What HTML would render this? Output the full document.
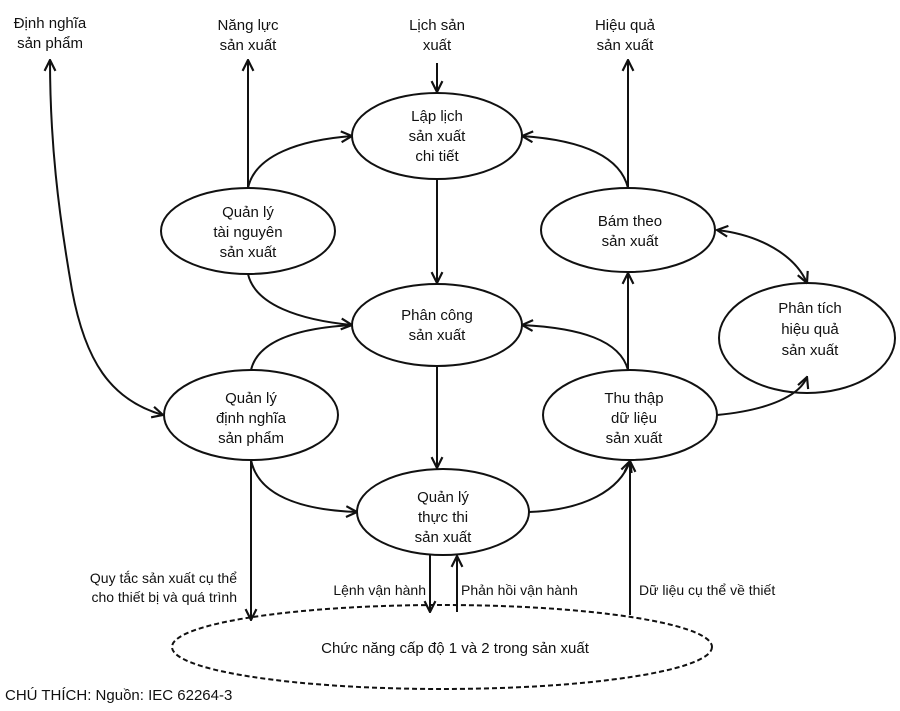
<!DOCTYPE html>
<html><head><meta charset="utf-8"><style>
html,body{margin:0;padding:0;background:#fff;}
svg{display:block;}
text{font-family:"Liberation Sans",sans-serif;font-size:15px;fill:#111;}
</style></head><body>
<svg width="900" height="711" viewBox="0 0 900 711" xmlns="http://www.w3.org/2000/svg">
<defs>
<marker id="a" viewBox="0 0 12 12" refX="11" refY="6" markerWidth="13" markerHeight="13" markerUnits="userSpaceOnUse" orient="auto-start-reverse">
<path d="M1,1 L11,6 L1,11" fill="none" stroke="#111" stroke-width="2"/>
</marker>
</defs>
<g fill="none" stroke="#111" stroke-width="2">
<ellipse cx="437" cy="136" rx="85" ry="43"/>
<ellipse cx="248" cy="231" rx="87" ry="43"/>
<ellipse cx="437" cy="325" rx="85" ry="41"/>
<ellipse cx="628" cy="230" rx="87" ry="42"/>
<ellipse cx="807" cy="338" rx="88" ry="55"/>
<ellipse cx="251" cy="415" rx="87" ry="45"/>
<ellipse cx="630" cy="415" rx="87" ry="45"/>
<ellipse cx="443" cy="512" rx="86" ry="43"/>
<ellipse cx="442" cy="647" rx="270" ry="42" stroke-dasharray="5,3"/>

<path d="M248,188 L248,60" marker-end="url(#a)"/>
<path d="M248,188 C255,155 300,140 352,136" marker-end="url(#a)"/>
<path d="M248,274 C255,305 300,320 352,325" marker-end="url(#a)"/>
<path d="M251,370 C258,340 300,328 352,325"/>
<path d="M251,460 C258,495 300,510 357,512" marker-end="url(#a)"/>
<path d="M251,460 L251,620" marker-end="url(#a)"/>
<path d="M163,415 C110,400 85,360 72,290 C58,210 50,140 50,60" marker-start="url(#a)" marker-end="url(#a)"/>
<path d="M437,63 L437,92" marker-end="url(#a)"/>
<path d="M437,179 L437,283" marker-end="url(#a)"/>
<path d="M437,366 L437,468" marker-end="url(#a)"/>
<path d="M628,188 L628,60" marker-end="url(#a)"/>
<path d="M628,188 C620,155 580,140 522,136" marker-end="url(#a)"/>
<path d="M628,370 L628,273" marker-end="url(#a)"/>
<path d="M628,370 C620,340 580,328 522,325" marker-end="url(#a)"/>
<path d="M529,512 C585,510 620,490 630,461" marker-end="url(#a)"/>
<path d="M630,615 L630,461" marker-end="url(#a)"/>
<path d="M717,415 C770,410 800,395 807,377" marker-end="url(#a)"/>
<path d="M717,230 C760,235 795,255 807,283" marker-start="url(#a)" marker-end="url(#a)"/>
<path d="M430,555 L430,612" marker-end="url(#a)"/>
<path d="M457,612 L457,556" marker-end="url(#a)"/>
</g>
<g text-anchor="middle">
<text x="50" y="28">Định nghĩa</text><text x="50" y="48">sản phẩm</text>
<text x="248" y="30">Năng lực</text><text x="248" y="50">sản xuất</text>
<text x="437" y="30">Lịch sản</text><text x="437" y="50">xuất</text>
<text x="625" y="30">Hiệu quả</text><text x="625" y="50">sản xuất</text>
<text x="437" y="121">Lập lịch</text><text x="437" y="141">sản xuất</text><text x="437" y="161">chi tiết</text>
<text x="248" y="217">Quản lý</text><text x="248" y="237">tài nguyên</text><text x="248" y="257">sản xuất</text>
<text x="437" y="320">Phân công</text><text x="437" y="340">sản xuất</text>
<text x="630" y="226">Bám theo</text><text x="630" y="246">sản xuất</text>
<text x="810" y="313">Phân tích</text><text x="810" y="334">hiệu quả</text><text x="810" y="355">sản xuất</text>
<text x="251" y="403">Quản lý</text><text x="251" y="423">định nghĩa</text><text x="251" y="443">sản phẩm</text>
<text x="634" y="403">Thu thập</text><text x="634" y="423">dữ liệu</text><text x="634" y="443">sản xuất</text>
<text x="443" y="502">Quản lý</text><text x="443" y="522">thực thi</text><text x="443" y="542">sản xuất</text>
<text x="455" y="653">Chức năng cấp độ 1 và 2 trong sản xuất</text>
</g>
<g>
<text x="237" y="583" text-anchor="end" style="font-size:14px">Quy tắc sản xuất cụ thể</text>
<text x="237" y="602" text-anchor="end" style="font-size:14px">cho thiết bị và quá trình</text>
<text x="426" y="595" text-anchor="end" style="font-size:14px">Lệnh vận hành</text>
<text x="461" y="595" style="font-size:14px">Phản hồi vận hành</text>
<text x="639" y="595" style="font-size:14px">Dữ liệu cụ thể về thiết</text>
<text x="5" y="700" style="font-size:15px">CHÚ THÍCH: Nguồn: IEC 62264-3</text>
</g>
</svg>
</body></html>
